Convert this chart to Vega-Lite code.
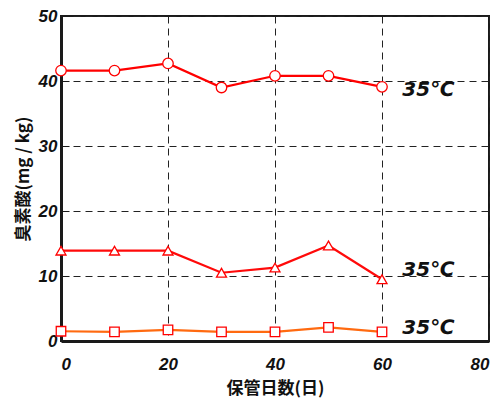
{
  "$schema": "https://vega.github.io/schema/vega-lite/v6.json",
  "autosize": {"type": "none"},
  "padding": {"left": 61, "top": 16, "right": 11, "bottom": 61},
  "width": 428,
  "height": 325,
  "background": "white",
  "config": {
    "view": {"stroke": "#1a1a1a", "strokeWidth": 2},
    "axis": {
      "gridColor": "#222222",
      "gridDash": [7, 5],
      "gridWidth": 1,
      "gridOpacity": 1,
      "domainColor": "#1a1a1a",
      "domainWidth": 3,
      "labelFont": "Liberation Sans",
      "labelFontWeight": "bold",
      "labelFontStyle": "italic",
      "labelFontSize": 17,
      "labelColor": "#111111",
      "titleFont": "Noto Sans CJK JP",
      "titleFontWeight": "bold",
      "titleFontSize": 17,
      "titleColor": "#111111"
    }
  },
  "datasets": {
    "series": [
      {"day": 0, "value": 41.6, "series": "a"},
      {"day": 10, "value": 41.6, "series": "a"},
      {"day": 20, "value": 42.7, "series": "a"},
      {"day": 30, "value": 39.0, "series": "a"},
      {"day": 40, "value": 40.8, "series": "a"},
      {"day": 50, "value": 40.8, "series": "a"},
      {"day": 60, "value": 39.1, "series": "a"},
      {"day": 0, "value": 13.9, "series": "b"},
      {"day": 10, "value": 13.9, "series": "b"},
      {"day": 20, "value": 13.9, "series": "b"},
      {"day": 30, "value": 10.5, "series": "b"},
      {"day": 40, "value": 11.3, "series": "b"},
      {"day": 50, "value": 14.7, "series": "b"},
      {"day": 60, "value": 9.5, "series": "b"},
      {"day": 0, "value": 1.5, "series": "c"},
      {"day": 10, "value": 1.4, "series": "c"},
      {"day": 20, "value": 1.7, "series": "c"},
      {"day": 30, "value": 1.4, "series": "c"},
      {"day": 40, "value": 1.4, "series": "c"},
      {"day": 50, "value": 2.1, "series": "c"},
      {"day": 60, "value": 1.4, "series": "c"}
    ],
    "labels": [
      {"day": 63.8, "value": 38.6, "label": "35℃"},
      {"day": 63.8, "value": 10.9, "label": "35℃"},
      {"day": 63.8, "value": 2.0, "label": "35℃"}
    ]
  },
  "encoding": {
    "x": {
      "field": "day",
      "type": "quantitative",
      "scale": {"domain": [0, 80], "nice": false, "zero": false},
      "axis": {
        "values": [0, 20, 40, 60, 80],
        "ticks": false,
        "labelPadding": 15,
        "title": "保管日数(日)",
        "titlePadding": 8
      }
    },
    "y": {
      "field": "value",
      "type": "quantitative",
      "scale": {"domain": [0, 50], "nice": false},
      "axis": {
        "values": [0, 10, 20, 30, 40, 50],
        "tickSize": -8,
        "tickColor": "#1a1a1a",
        "tickWidth": 1,
        "labelPadding": 12,
        "title": "臭素酸(mg / kg)",
        "titlePadding": 6
      }
    }
  },
  "layer": [
    {
      "data": {"name": "series"},
      "mark": {"type": "line", "strokeWidth": 2.2},
      "encoding": {
        "detail": {"field": "series"},
        "color": {
          "field": "series",
          "type": "nominal",
          "scale": {"domain": ["a", "b", "c"], "range": ["#ff0000", "#ff0a0a", "#ff6a10"]},
          "legend": null
        }
      }
    },
    {
      "data": {"name": "series"},
      "mark": {"type": "point", "filled": true, "fill": "white", "stroke": "#ff0000", "strokeWidth": 1.3, "opacity": 1},
      "encoding": {
        "shape": {
          "field": "series",
          "type": "nominal",
          "scale": {"domain": ["a", "b", "c"], "range": ["circle", "triangle-up", "square"]},
          "legend": null
        },
        "size": {
          "field": "series",
          "type": "nominal",
          "scale": {"domain": ["a", "b", "c"], "range": [110, 90, 50]},
          "legend": null
        }
      }
    },
    {
      "data": {"name": "labels"},
      "mark": {
        "type": "text",
        "align": "left",
        "baseline": "middle",
        "font": "DejaVu Sans",
        "fontWeight": "bold",
        "fontStyle": "italic",
        "fontSize": 20,
        "color": "#111111"
      },
      "encoding": {"text": {"field": "label"}}
    }
  ]
}
